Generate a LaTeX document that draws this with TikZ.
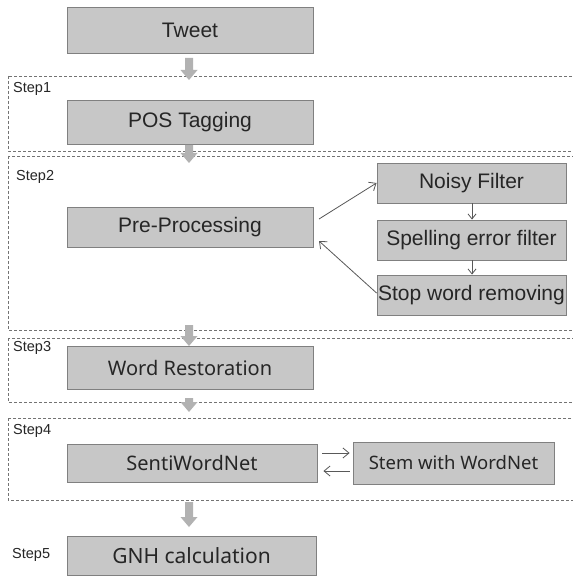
\documentclass[tikz,border=0pt]{standalone}
\usepackage{fontspec}
\setmainfont{Liberation Sans}
\newfontfamily\roundfont{Noto Sans}
\usetikzlibrary{arrows.meta,positioning}
\tikzset{
  x=1pt, y=-1pt,
  procbox/.style={draw=black!50, fill=black!22, line width=0.9pt, inner sep=0pt,
    font=\fontsize{21}{23}\selectfont, text=black!85},
  roundbox/.style={procbox, font=\roundfont\fontsize{20}{22}\selectfont},
  stepframe/.style={draw=black!55, dash pattern=on 3pt off 2pt, line width=0.6pt},
  steplabel/.style={font=\fontsize{14.5}{16}\selectfont, text=black!85, anchor=west, inner sep=0pt},
  thinarrow/.style={draw=black!65, line width=0.8pt, -{Straight Barb[length=6pt,width=10pt]}},
  smallarrow/.style={draw=black!65, line width=0.8pt, -{Straight Barb[length=5pt,width=8pt]}},
}
% grey block arrow pointing down: centre x, top y, bottom y
\newcommand{\blockdown}[3]{%
  \fill[black!30] (#1-4,#2) -- (#1+4,#2) -- (#1+4,#3-10) -- (#1+8.5,#3-10) -- (#1,#3) -- (#1-8.5,#3-10) -- (#1-4,#3-10) -- cycle;}
\begin{document}
\begin{tikzpicture}
\useasboundingbox (0,0) rectangle (572,577);
\fill[white] (0,0) rectangle (572,577);

% step frames
\draw[stepframe] (8,76) rectangle (590,151);
\draw[stepframe] (8,156) rectangle (590,330);
\draw[stepframe] (8,338) rectangle (590,402);
\draw[stepframe] (8,418) rectangle (590,500);

\node[steplabel] (s1) at (13,89) {Step1};
\node[steplabel] (s2) at (16,177) {Step2};
\node[steplabel] (s3) at (13,348) {Step3};
\node[steplabel] (s4) at (13,431) {Step4};
\node[steplabel] (s5) at (12,555) {Step5};

% process boxes
\node[procbox, minimum width=246, minimum height=46] (tweet) at (190,30) {Tweet};
\node[procbox, minimum width=246, minimum height=44] (pos) at (190,122) {POS Tagging};
\node[procbox, minimum width=246, minimum height=40] (pre) at (190,227) {Pre-Processing};
\node[procbox, minimum width=189, minimum height=40] (noisy) at (471.5,183) {Noisy Filter};
\node[procbox, minimum width=189, minimum height=40] (spell) at (471.5,240) {Spelling error filter};
\node[procbox, minimum width=189, minimum height=40] (stop) at (471.5,295) {Stop word removing};
\node[roundbox, minimum width=246, minimum height=43] (word) at (190,367.5) {Word Restoration};
\node[roundbox, minimum width=250, minimum height=38] (senti) at (192,463) {SentiWordNet};
\node[roundbox, minimum width=201, minimum height=42, font=\roundfont\fontsize{18.5}{21}\selectfont] (stem) at (453.5,463) {Stem with WordNet};
\node[roundbox, minimum width=249, minimum height=39, font=\roundfont\fontsize{21}{23}\selectfont] (gnh) at (191.5,555.5) {GNH calculation};

% block arrows between stages
\blockdown{189}{58}{80}
\blockdown{189}{145}{163}
\blockdown{189}{325}{346}
\blockdown{189}{398}{412}
\blockdown{189}{502}{527}

% thin connectors
\coordinate (preout) at (319,219);
\coordinate (prein) at (319,241);
\draw[thinarrow] (preout) -- (noisy.west);
\draw[thinarrow] ([yshift=2pt]stop.west) -- (prein);
\draw[smallarrow] (noisy.south -| 472,0) -- (spell.north -| 472,0);
\draw[smallarrow] (spell.south -| 472,0) -- (stop.north -| 472,0);
\draw[thinarrow] ([xshift=5pt,yshift=10pt]senti.east) -- ([xshift=-3pt,yshift=10pt]stem.west);
\draw[thinarrow] ([xshift=-3pt,yshift=-8pt]stem.west) -- ([xshift=6pt,yshift=-8pt]senti.east);
\end{tikzpicture}
\end{document}
